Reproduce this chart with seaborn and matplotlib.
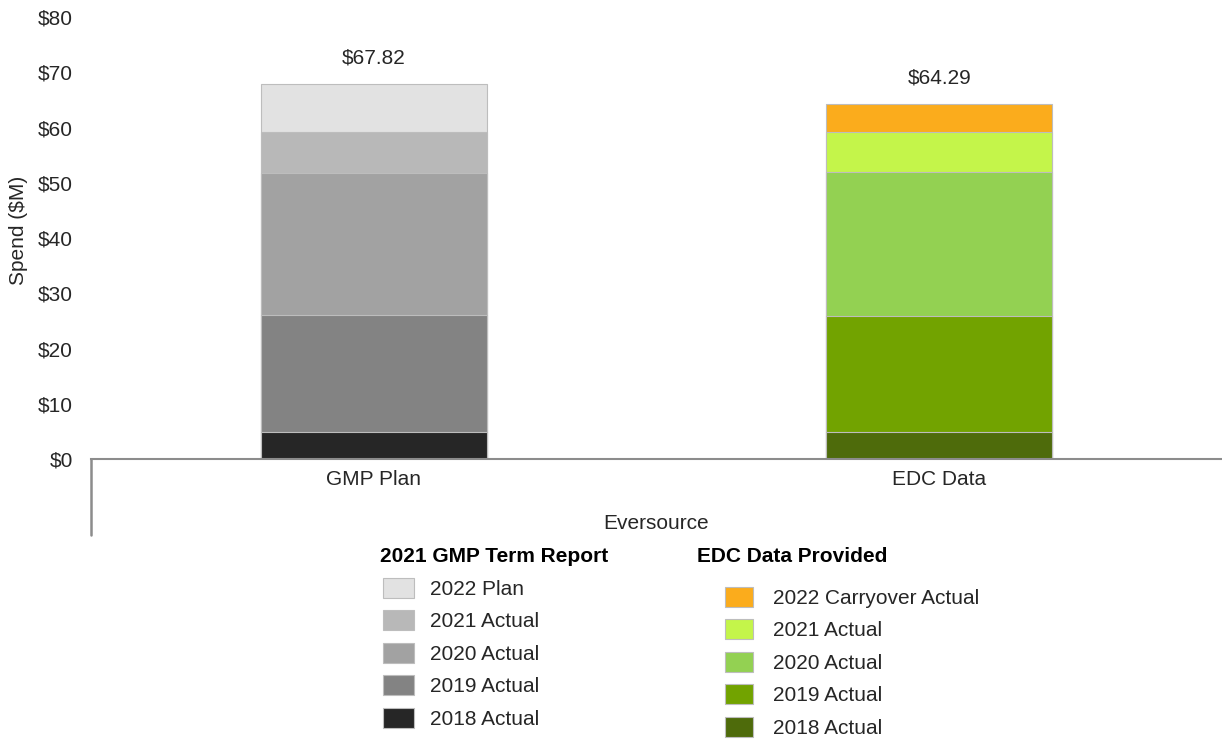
import pandas as pd
import matplotlib
matplotlib.use('Agg')
import matplotlib.pyplot as plt
from matplotlib.patches import Patch
import seaborn as sns

# data ($M)
categories = ['GMP Plan', 'EDC Data']
gmp_labels = ['2018 Actual', '2019 Actual', '2020 Actual', '2021 Actual', '2022 Plan']
edc_labels = ['2018 Actual', '2019 Actual', '2020 Actual', '2021 Actual', '2022 Carryover Actual']
gmp_values = [4.90, 21.20, 25.60, 7.50, 8.62]
edc_values = [4.90, 20.90, 26.20, 7.20, 5.09]

gmp_colors = ['#262626', '#838383', '#a2a2a2', '#b8b8b8', '#e2e2e2']
edc_colors = ['#4e6b0b', '#72a300', '#93d152', '#c4f54a', '#fbac1c']

sns.set_theme(style='white')
plt.rcParams['font.family'] = ['Liberation Sans', 'DejaVu Sans']
FS = 15
TXT = '#262626'

fig = plt.figure(figsize=(12.22, 7.41), dpi=100)
ax = fig.add_axes([91 / 1222, 282 / 741, 1131 / 1222, 442 / 741])

# cumulative tops, drawn from the tallest layer down so lower ones cover
gmp_cum = pd.Series(gmp_values).cumsum().tolist()
edc_cum = pd.Series(edc_values).cumsum().tolist()
for i in reversed(range(len(gmp_values))):
    layer = pd.DataFrame({'category': categories, 'top': [gmp_cum[i], edc_cum[i]]})
    sns.barplot(data=layer, x='category', y='top', hue='category', order=categories,
                hue_order=categories, palette=[gmp_colors[i], edc_colors[i]],
                saturation=1, width=0.4, dodge=False, legend=False,
                edgecolor='#bdbdbd', linewidth=0.8, ax=ax)

# totals on top
totals = [sum(gmp_values), sum(edc_values)]
for x, t in enumerate(totals):
    ax.annotate(f'${t:.2f}', (x, t), xytext=(0, 12), textcoords='offset points',
                ha='center', va='bottom', fontsize=FS, color=TXT)

ax.set_xlim(-0.5, 1.5)
ax.set_ylim(0, 80)
ax.set_yticks(range(0, 81, 10))
ax.set_yticklabels([f'${v}' for v in range(0, 81, 10)])
ax.tick_params(axis='y', length=0, pad=13, labelsize=FS, labelcolor=TXT)
ax.tick_params(axis='x', length=0, pad=8, labelsize=FS, labelcolor=TXT)

for s in ['top', 'right', 'left']:
    ax.spines[s].set_visible(False)
ax.spines['bottom'].set_color('#8c8c8c')
ax.spines['bottom'].set_linewidth(1.5)
# multi-level category axis divider
ax.plot([0, 0], [0, -76 / 442], transform=ax.transAxes, color='#8c8c8c',
        lw=1.8, clip_on=False)

ax.set_ylabel('Spend ($M)', fontsize=FS, color=TXT)
ax.yaxis.set_label_coords(-63 / 1131, (459 - 230) / 442)
ax.set_xlabel('Eversource', fontsize=FS, color=TXT)
ax.xaxis.set_label_coords(0.5, -0.124)

# legends
fig.text(380 / 1222, 1 - 557 / 741, '2021 GMP Term Report', fontsize=FS,
         fontweight='bold', color='black', ha='left', va='center')
fig.text(697 / 1222, 1 - 557 / 741, 'EDC Data Provided', fontsize=FS,
         fontweight='bold', color='black', ha='left', va='center')

h1 = [Patch(facecolor=c, edgecolor='#bdbdbd', lw=0.8) for c in gmp_colors][::-1]
h2 = [Patch(facecolor=c, edgecolor='#bdbdbd', lw=0.8) for c in edc_colors][::-1]
leg1 = fig.legend(h1, gmp_labels[::-1], loc='upper left',
                  bbox_to_anchor=(383 / 1222, 1 - 577.5 / 741), frameon=False,
                  fontsize=FS, handlelength=1.5, handleheight=1.1,
                  handletextpad=0.77, labelspacing=0.55, borderpad=0,
                  borderaxespad=0, labelcolor=TXT)
leg2 = fig.legend(h2, edc_labels[::-1], loc='upper left',
                  bbox_to_anchor=(725 / 1222, 1 - 586.5 / 741), frameon=False,
                  fontsize=FS, handlelength=1.35, handleheight=1.1,
                  handletextpad=0.96, labelspacing=0.55, borderpad=0,
                  borderaxespad=0, labelcolor=TXT)

fig.savefig('out.png', dpi=100)
